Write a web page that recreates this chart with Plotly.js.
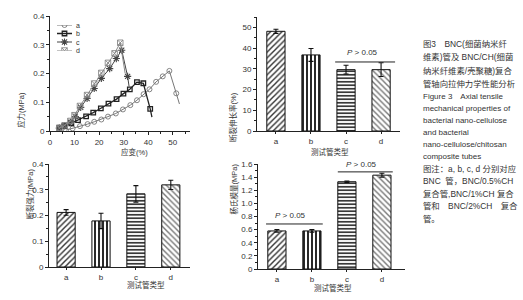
<!DOCTYPE html>
<html><head><meta charset="utf-8">
<script src="https://cdn.plot.ly/plotly-3.0.1.min.js"></script>
<style>html,body{margin:0;padding:0;background:#fff}#chart{width:523px;height:300px}</style>
</head><body><div id="chart"></div>
<script>
// ---- Panel 1: stress-strain curves ----
const seriesNames = ['a', 'b', 'c', 'd'];
const strainA = [6.5, 9.2, 12.2, 15.3, 18.0, 20.9, 23.6, 26.8, 29.7, 32.7, 35.4, 38.1, 40.5, 43.2, 45.9, 48.6, 51.4, 52.7];
const stressA = [0.003, 0.009, 0.017, 0.024, 0.032, 0.040, 0.050, 0.061, 0.075, 0.090, 0.107, 0.128, 0.145, 0.171, 0.190, 0.209, 0.131, 0.094];
const strainB = [3.8, 5.8, 8.7, 11.4, 14.7, 17.6, 20.7, 23.8, 27.1, 29.9, 32.5, 35.4, 38.0, 40.8, 41.5];
const stressB = [0.012, 0.017, 0.027, 0.038, 0.051, 0.064, 0.079, 0.095, 0.111, 0.130, 0.145, 0.170, 0.166, 0.077, 0.048];
const strainC = [3.8, 6.0, 8.3, 10.3, 12.5, 15.1, 18.0, 20.9, 24.3, 27.0, 29.2, 31.6, 32.2];
const stressC = [0.010, 0.018, 0.030, 0.050, 0.082, 0.113, 0.148, 0.183, 0.217, 0.252, 0.281, 0.190, 0.155];
const strainD = [3.8, 6.0, 8.3, 10.0, 12.2, 15.1, 18.0, 20.9, 23.6, 26.3, 28.6, 30.6];
const stressD = [0.010, 0.020, 0.035, 0.055, 0.087, 0.125, 0.165, 0.202, 0.237, 0.270, 0.307, 0.200];

// ---- Bar panels ----
const groups = ['a', 'b', 'c', 'd'];
const elongation = [48.1, 36.7, 29.6, 29.6];
const elongationErr = [1.0, 3.1, 2.1, 3.3];
const strength = [0.212, 0.179, 0.284, 0.319];
const strengthErr = [0.011, 0.030, 0.032, 0.018];
const modulus = [0.58, 0.58, 1.33, 1.43];
const modulusErr = [0.02, 0.02, 0.01, 0.03];

const y1Ticks = [0, 0.1, 0.2, 0.3, 0.4];
const y1Text = ['0', '0.1', '0.2', '0.3', '0.4'];
const y4Ticks = [0, 0.2, 0.4, 0.6, 0.8, 1.0, 1.2, 1.4, 1.6];
const y4Text = ['0', '0.2', '0.4', '0.6', '0.8', '1.0', '1.2', '1.4', '1.6'];

const captionLines = [
  '图3　BNC(细菌纳米纤',
  '维素)管及 BNC/CH(细菌',
  '纳米纤维素/壳聚糖)复合',
  '管轴向拉伸力学性能分析',
  'Figure 3　Axial tensile',
  'mechanical properties of',
  'bacterial nano-cellulose',
  'and bacterial',
  'nano-cellulose/chitosan',
  'composite tubes',
  '图注：a, b, c, d 分别对应',
  'BNC  管，BNC/0.5%CH',
  '复合管,BNC/1%CH 复合',
  '管和　BNC/2%CH　复合',
  '管。'
];

const FONT = 'Liberation Sans, Arial, Noto Sans CJK SC, sans-serif';
const W = 523, H = 300;
const px = v => v / W;
const py = v => 1 - v / H;

const styles = [
  {color: '#777', symbol: 'circle-open', size: 5, lw: 1, mlw: 0.9},
  {color: '#222', symbol: 'square-open', size: 4.5, lw: 1.3, mlw: 1.3},
  {color: '#444', symbol: 'asterisk-open', size: 6, lw: 1, mlw: 1.1},
  {color: '#888', symbol: 'square-x-open', size: 5.5, lw: 1, mlw: 0.9}
];
const curveX = [strainA, strainB, strainC, strainD];
const curveY = [stressA, stressB, stressC, stressD];

const traces = [];
curveX.forEach((xs, i) => {
  const s = styles[i];
  traces.push({
    type: 'scatter', mode: 'lines+markers', x: xs, y: curveY[i], xaxis: 'x', yaxis: 'y',
    line: {color: s.color, width: s.lw},
    marker: {symbol: s.symbol, size: s.size, color: s.color, line: {color: s.color, width: s.mlw},
             opacity: xs.map((_, k) => (k === xs.length - 1) ? 0 : 1)},
    showlegend: false, hoverinfo: 'skip'
  });
  // legend sample
  traces.push({
    type: 'scatter', mode: 'lines+markers', x: [0, 0.5, 1], y: [i, i, i], xaxis: 'x5', yaxis: 'y5',
    line: {color: s.color, width: s.lw},
    marker: {symbol: s.symbol, size: s.size, color: s.color, line: {color: s.color, width: s.mlw}, opacity: [0, 1, 0]},
    showlegend: false, hoverinfo: 'skip'
  });
});

const patternShapes = ['/', '|', '-', '\\'];
const patternFg = ['#333', '#111', '#222', '#777'];
const patternSize = [4, 4, 3.5, 4];
const patternSol = [0.35, 0.45, 0.45, 0.35];
function barTrace(vals, errs, xa, ya) {
  return {
    type: 'bar', x: groups, y: vals, xaxis: xa, yaxis: ya, width: 0.52,
    marker: {color: 'white', line: {color: '#111', width: 1},
             pattern: {shape: patternShapes, fgcolor: patternFg, bgcolor: 'white', size: patternSize, solidity: patternSol, fillmode: 'replace'}},
    error_y: {type: 'data', array: errs, visible: true, color: '#111', thickness: 1.1, width: 2.5},
    showlegend: false, hoverinfo: 'skip'
  };
}
traces.push(barTrace(elongation, elongationErr, 'x2', 'y2'));
traces.push(barTrace(strength, strengthErr, 'x3', 'y3'));
traces.push(barTrace(modulus, modulusErr, 'x4', 'y4'));

const tickFont = {family: FONT, size: 8, color: '#333'};
const baseAxis = {
  showline: true, linecolor: '#222', linewidth: 1, showgrid: false, zeroline: false,
  ticks: 'outside', ticklen: 3, tickcolor: '#222', tickwidth: 1, tickfont: tickFont, fixedrange: true
};
function minor(dt) { return {tickmode: 'linear', tick0: 0, dtick: dt, ticks: 'outside', ticklen: 2, tickcolor: '#222', showgrid: false}; }

const layout = {
  width: W, height: H, margin: {l: 0, r: 0, t: 0, b: 0},
  paper_bgcolor: 'white', plot_bgcolor: 'rgba(0,0,0,0)',
  font: {family: FONT, color: '#333'},
  xaxis: Object.assign({}, baseAxis, {domain: [px(50), px(190)], anchor: 'y', range: [0, 57], tickmode: 'array', tickvals: [0, 10, 20, 30, 40, 50], minor: minor(5)}),
  yaxis: Object.assign({}, baseAxis, {domain: [py(131), py(16)], anchor: 'x', range: [0, 0.4], tickmode: 'array', tickvals: y1Ticks, ticktext: y1Text, minor: minor(0.05)}),
  xaxis2: Object.assign({}, baseAxis, {domain: [px(257), px(400)], anchor: 'y2', type: 'category', range: [-0.54, 3.54], ticklen: 2}),
  yaxis2: Object.assign({}, baseAxis, {domain: [py(131), py(17)], anchor: 'x2', range: [0, 55], tickmode: 'array', tickvals: [0, 10, 20, 30, 40, 50], minor: minor(5)}),
  xaxis3: Object.assign({}, baseAxis, {domain: [px(49), px(190)], anchor: 'y3', type: 'category', range: [-0.49, 3.55], ticklen: 2}),
  yaxis3: Object.assign({}, baseAxis, {domain: [py(267), py(164)], anchor: 'x3', range: [0, 0.4], tickmode: 'array', tickvals: y1Ticks, ticktext: y1Text, minor: minor(0.05)}),
  xaxis4: Object.assign({}, baseAxis, {domain: [px(258), px(405)], anchor: 'y4', type: 'category', range: [-0.54, 3.66], ticklen: 2}),
  yaxis4: Object.assign({}, baseAxis, {domain: [py(269), py(164)], anchor: 'x4', range: [0, 1.6], tickmode: 'array', tickvals: y4Ticks, ticktext: y4Text, minor: minor(0.1)}),
  xaxis5: {domain: [px(57), px(72)], anchor: 'y5', range: [0, 1], visible: false, fixedrange: true},
  yaxis5: {domain: [py(50.5), py(25)], anchor: 'x5', range: [3, 0], visible: false, fixedrange: true},
  shapes: [
    {type: 'line', xref: 'x2', yref: 'y2', x0: 1.69, x1: 3.4, y0: 33.3, y1: 33.3, line: {color: '#222', width: 1}},
    {type: 'line', xref: 'x4', yref: 'y4', x0: -0.31, x1: 1.31, y0: 0.686, y1: 0.686, line: {color: '#222', width: 1}},
    {type: 'line', xref: 'x4', yref: 'y4', x0: 1.74, x1: 3.31, y0: 1.48, y1: 1.48, line: {color: '#222', width: 1}}
  ],
  annotations: []
};

const ann = layout.annotations;
// legend labels
seriesNames.forEach((n, i) => ann.push({xref: 'paper', yref: 'y5', x: px(74), y: i, text: n, showarrow: false, xanchor: 'left', yanchor: 'middle', font: {size: 7, color: '#333'}}));
// axis titles
const titleFont = {family: FONT, size: 7.5, color: '#333'};
ann.push({xref: 'paper', yref: 'paper', x: px(119), y: py(152), text: '应变(%)', showarrow: false, font: titleFont});
ann.push({xref: 'paper', yref: 'paper', x: px(14), y: py(90), text: '应力(MPa)', textangle: -90, showarrow: false, font: titleFont});
ann.push({xref: 'paper', yref: 'paper', x: px(330), y: py(152), text: '测试管类型', showarrow: false, font: titleFont});
ann.push({xref: 'paper', yref: 'paper', x: px(233), y: py(90), text: '断裂伸长率(%)', textangle: -90, showarrow: false, font: titleFont});
ann.push({xref: 'paper', yref: 'paper', x: px(125), y: py(292), text: '测试管类型', showarrow: false, font: titleFont});
ann.push({xref: 'paper', yref: 'paper', x: px(22), y: py(222), text: '断裂强力(MPa)', textangle: -90, showarrow: false, font: titleFont});
ann.push({xref: 'paper', yref: 'paper', x: px(333), y: py(294.5), text: '测试管类型', showarrow: false, font: titleFont});
ann.push({xref: 'paper', yref: 'paper', x: px(233), y: py(217), text: '杨氏模量(MPa)', textangle: -90, showarrow: false, font: titleFont});
// significance labels
const pFont = {family: FONT, size: 8, color: '#333'};
ann.push({xref: 'x2', yref: 'y2', x: 2.46, y: 34.5, text: '<i>P</i> > 0.05', showarrow: false, yanchor: 'bottom', font: pFont});
ann.push({xref: 'x4', yref: 'y4', x: 0.4, y: 0.71, text: '<i>P</i> > 0.05', showarrow: false, yanchor: 'bottom', font: pFont});
ann.push({xref: 'x4', yref: 'y4', x: 2.43, y: 1.50, text: '<i>P</i> > 0.05', showarrow: false, yanchor: 'bottom', font: pFont});
// caption
const captionY = [44.3, 57.5, 70.7, 83.5, 96, 108, 120, 132.3, 144.3, 156.3, 168.5, 181, 193.5, 206, 218.5];
captionLines.forEach((t, i) => {
  const cjk = /[\u4e00-\u9fff]/.test(t);
  ann.push({xref: 'paper', yref: 'paper', x: px(421), y: py(captionY[i]), text: t, showarrow: false, xanchor: 'left', yanchor: 'middle',
            font: {family: FONT, size: cjk ? 8.4 : 8, color: '#333'}});
});

Plotly.newPlot('chart', traces, layout, {staticPlot: true, displayModeBar: false});
</script>
</body></html>
